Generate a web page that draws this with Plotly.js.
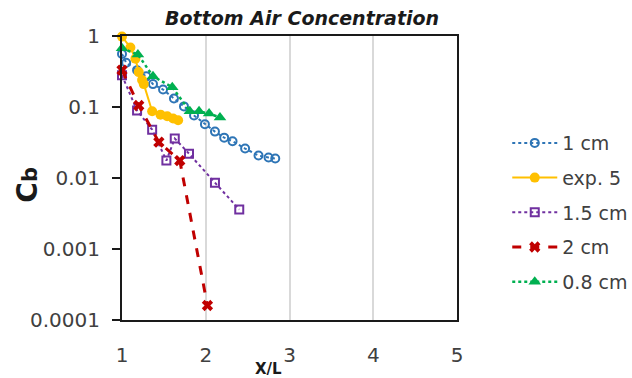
<!DOCTYPE html>
<html>
<head>
<meta charset="utf-8">
<script src="https://cdn.plot.ly/plotly-3.0.1.min.js"></script>
<style>html,body{margin:0;padding:0;background:#fff;}#chart{width:632px;height:378px;}</style>
</head>
<body>
<div id="chart"></div>
<script>
// Series data (x = X/L, y = Cb)
const names = ["1 cm", "exp. 5", "1.5 cm", "2 cm", "0.8 cm"];

const x1cm = [1.0, 1.05, 1.18, 1.29, 1.37, 1.49, 1.62, 1.74, 1.86, 1.99, 2.11, 2.22, 2.32, 2.47, 2.63, 2.75, 2.83];
const y1cm = [0.56, 0.42, 0.33, 0.27, 0.21, 0.176, 0.132, 0.102, 0.076, 0.057, 0.045, 0.037, 0.033, 0.026, 0.0207, 0.0194, 0.0188];

const xExp5 = [1.0, 1.10, 1.16, 1.20, 1.24, 1.26, 1.36, 1.46, 1.54, 1.61, 1.67];
const yExp5 = [0.98, 0.69, 0.48, 0.31, 0.24, 0.21, 0.087, 0.078, 0.074, 0.069, 0.065];

const x15cm = [1.0, 1.18, 1.36, 1.53, 1.63, 1.80, 2.11, 2.40];
const y15cm = [0.28, 0.089, 0.048, 0.0176, 0.036, 0.022, 0.0086, 0.0036];

const x2cm = [1.0, 1.20, 1.44, 1.69, 2.02];
const y2cm = [0.33, 0.105, 0.032, 0.0176, 0.00016];

const x08cm = [1.0, 1.19, 1.37, 1.60, 1.81, 1.92, 2.04, 2.17];
const y08cm = [0.67, 0.55, 0.27, 0.19, 0.087, 0.087, 0.081, 0.071];

// Axis ticks
const xTicks = [1, 2, 3, 4, 5];
const yTickVals = [1, 0.1, 0.01, 0.001, 0.0001];
const yTickText = ["1", "0.1", "0.01", "0.001", "0.0001"];

const FONT = "DejaVu Sans, sans-serif";
const TXT = "#404040";

function tr(name, x, y, color, dash, lw, symbol, msize, mline) {
  return {
    type: "scatter", mode: "lines+markers", name: name, x: x, y: y,
    legendgroup: name, cliponaxis: false,
    line: {color: color, dash: dash, width: lw},
    marker: {symbol: symbol, size: msize, color: color, line: {color: color, width: mline}}
  };
}

const data = [
  tr(names[0], x1cm, y1cm, "#2E75B6", "dot", 2, "circle-open", 8, 2),
  tr(names[1], xExp5, yExp5, "#FFC000", "solid", 2, "circle", 10, 0),
  tr(names[2], x15cm, y15cm, "#7030A0", "dot", 2, "square-open", 8, 2),
  tr(names[3], x2cm, y2cm, "#C00000", "dash", 3, "x", 10, 0),
  tr(names[4], x08cm, y08cm, "#00B050", "dot", 2.5, "triangle-up", 11, 0)
];

const layout = {
  width: 632, height: 378,
  margin: {l: 122, r: 175, t: 36, b: 58, pad: 0, autoexpand: false},
  paper_bgcolor: "#fff", plot_bgcolor: "#fff",
  font: {family: FONT, color: TXT},
  title: {
    text: "<b><i>Bottom Air Concentration</i></b>",
    font: {family: FONT, size: 19, color: "#1a1a1a"},
    x: 0.478, xanchor: "center", y: 0.952, yanchor: "middle"
  },
  xaxis: {
    range: [1, 5], tickvals: xTicks, ticktext: xTicks.map(String),
    showgrid: true, gridcolor: "#D9D9D9", gridwidth: 2,
    showline: true, linecolor: "#1a1a1a", linewidth: 2, mirror: true,
    ticks: "", ticklabelstandoff: 16, zeroline: false,
    tickfont: {family: FONT, size: 20, color: TXT}
  },
  yaxis: {
    type: "log", range: [-4, 0], tickvals: yTickVals, ticktext: yTickText,
    showgrid: false, showline: true, linecolor: "#1a1a1a", linewidth: 2, mirror: true,
    ticks: "outside", ticklen: 8, tickwidth: 2, tickcolor: "#1a1a1a", ticklabelstandoff: 8,
    zeroline: false,
    tickfont: {family: FONT, size: 20, color: TXT}
  },
  annotations: [{
    text: "<b>X/L</b>", xref: "paper", yref: "paper", x: 0.436, y: -0.173,
    xanchor: "center", yanchor: "middle", showarrow: false,
    font: {family: FONT, size: 15, color: "#1a1a1a"}
  }, {
    text: "<b>C<span style='font-size:21px'>b</span></b>", xref: "paper", yref: "paper",
    x: -0.282, y: 0.475, xanchor: "center", yanchor: "middle", textangle: -90, showarrow: false,
    font: {family: FONT, size: 28, color: "#1a1a1a"}
  }],
  showlegend: true,
  legend: {
    x: 1.15, xanchor: "left", y: 0.69, yanchor: "top",
    font: {family: FONT, size: 19, color: TXT},
    itemwidth: 45, tracegroupgap: 7, bgcolor: "rgba(0,0,0,0)", borderwidth: 0
  }
};

Plotly.newPlot("chart", data, layout, {displayModeBar: false, staticPlot: true});
</script>
</body>
</html>
